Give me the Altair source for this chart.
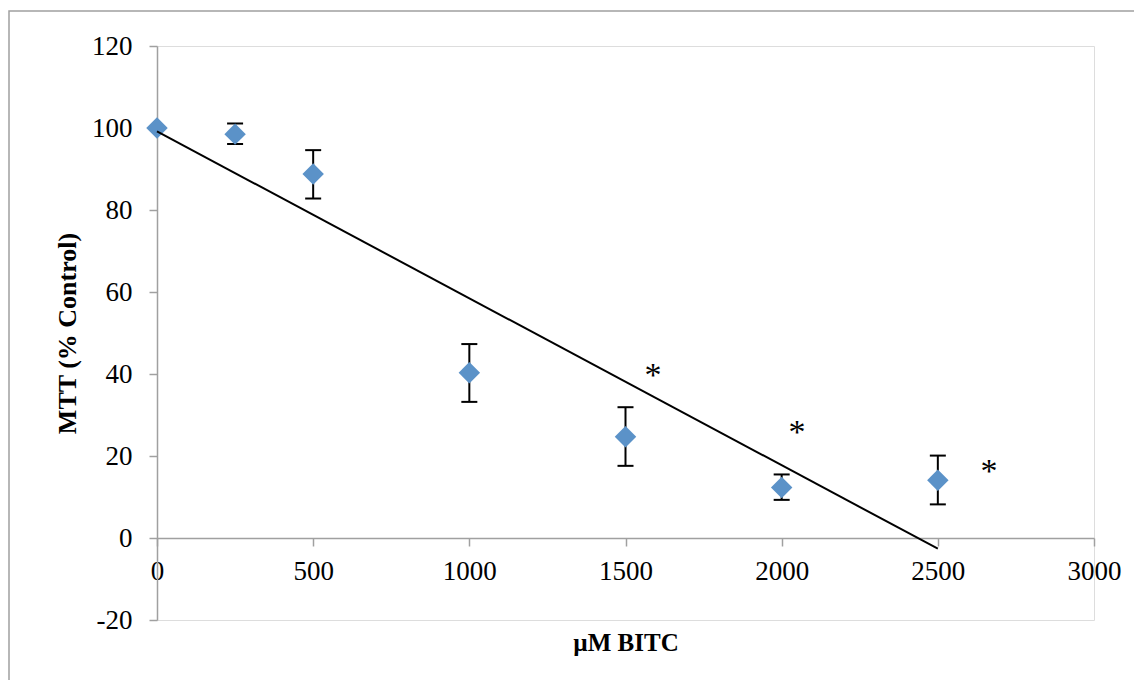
import altair as alt
import pandas as pd

# Data
conc = [0, 250, 500, 1000, 1500, 2000, 2500]
mtt = [100, 98.5, 88.8, 40.3, 24.7, 12.3, 14.1]
err_lo = [100, 96.1, 82.8, 33.2, 17.6, 9.3, 8.2]
err_hi = [100, 101.1, 94.6, 47.3, 31.9, 15.5, 20.1]

star_x = [1588, 2049, 2664]
star_y = [41.7, 27.8, 18.3]
star_txt = ["*", "*", "*"]

x_ticks = [0, 500, 1000, 1500, 2000, 2500, 3000]
y_ticks = [-20, 0, 20, 40, 60, 80, 100, 120]

df = pd.DataFrame({"x": conc, "y": mtt, "lo": err_lo, "hi": err_hi})
err_df = df[df["x"] > 0]
stars = pd.DataFrame({"x": star_x, "y": star_y, "t": star_txt})
frame_df = pd.DataFrame({"a": [0]})

W, H = 937, 574
FONT = "Liberation Serif"
AXIS_GRAY = "#a0a0a0"
BLUE = "#5b92c8"

xscale = alt.Scale(domain=[0, 3000], nice=False, zero=False)
yscale = alt.Scale(domain=[-20, 120], nice=False, zero=False)

x_axis = alt.Axis(
    values=x_ticks, title="µM BITC", grid=False,
    offset=-H * 20 / 140, labelExpr="'' + datum.value",
    domainColor=AXIS_GRAY, domainWidth=1.5, tickColor=AXIS_GRAY, tickWidth=1.5,
    tickSize=8, labelPadding=12, labelFont=FONT, labelFontSize=27, labelColor="black",
    labelFlush=False, labelOverlap=False,
    titleFont=FONT, titleFontSize=25, titleFontWeight="bold", titleColor="black",
    titleX=W / 2, titleY=112, titleBaseline="alphabetic", titleAlign="center",
)
y_axis = alt.Axis(
    values=y_ticks, title="MTT (% Control)", grid=False, labelExpr="'' + datum.value",
    domainColor=AXIS_GRAY, domainWidth=1.5, tickColor=AXIS_GRAY, tickWidth=1.5,
    tickSize=8, labelPadding=17, labelFont=FONT, labelFontSize=27, labelColor="black",
    labelFlush=False, labelOverlap=False,
    titleFont=FONT, titleFontSize=26, titleFontWeight="bold", titleColor="black",
    titleX=-90, titleY=H / 2, titleAngle=270, titleBaseline="middle", titleAlign="center",
)

base = alt.Chart(df)

frame = alt.Chart(frame_df).mark_rect(
    fill="white", fillOpacity=0, stroke=AXIS_GRAY, strokeWidth=1.5, clip=False
).encode(
    x=alt.value(-148), x2=alt.value(1400), y=alt.value(-35), y2=alt.value(900)
)

points = base.mark_point(
    shape="diamond", filled=True, size=460, color=BLUE, opacity=1
).encode(
    x=alt.X("x:Q", scale=xscale, axis=x_axis),
    y=alt.Y("y:Q", scale=yscale, axis=y_axis),
)

err_rules = alt.Chart(err_df).mark_rule(color="black", strokeWidth=2).encode(
    x="x:Q", y="lo:Q", y2="hi:Q"
)
cap_lo = alt.Chart(err_df).mark_tick(
    color="black", orient="horizontal", size=16, thickness=2, opacity=1
).encode(x="x:Q", y="lo:Q")
cap_hi = alt.Chart(err_df).mark_tick(
    color="black", orient="horizontal", size=16, thickness=2, opacity=1
).encode(x="x:Q", y="hi:Q")

trend = base.transform_regression(
    "x", "y", extent=[0, 2500]
).mark_line(color="black", strokeWidth=2, clip=False).encode(
    x="x:Q", y="y:Q"
)

star_text = alt.Chart(stars).mark_text(
    font=FONT, fontSize=34, color="black", baseline="alphabetic", align="center", dy=19
).encode(x="x:Q", y="y:Q", text="t:N")

chart = alt.layer(
    frame, err_rules, cap_lo, cap_hi, points, trend, star_text
).properties(
    width=W, height=H,
    autosize=alt.AutoSizeParams(type="none"),
    padding={"left": 149, "top": 38, "right": 40, "bottom": 60},
).configure_view(stroke=None).configure(background="white")

chart.save("out.html", embed_options={"renderer": "svg", "actions": False})
